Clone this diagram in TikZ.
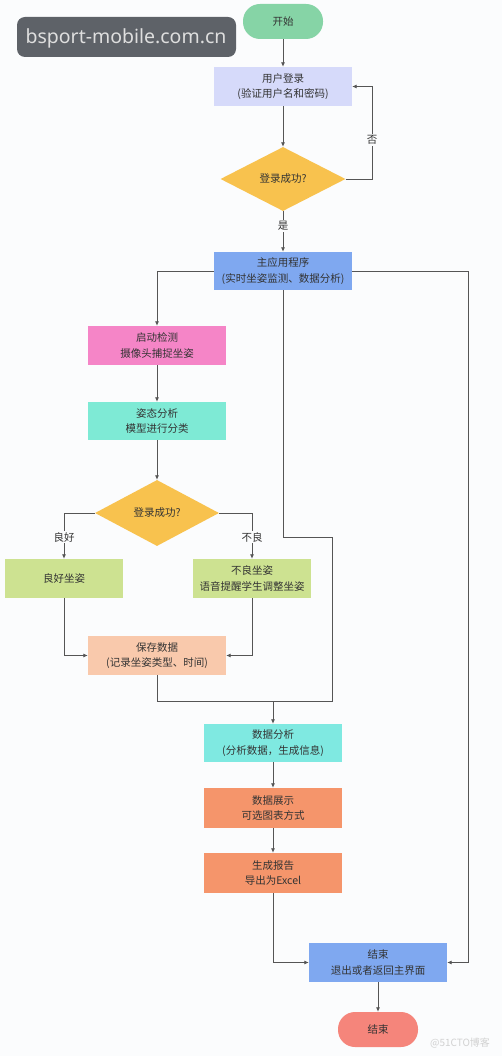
\documentclass[tikz,border=0pt]{standalone}
\usepackage{fontspec}
\setmainfont{Noto Sans CJK SC}
\newfontfamily\wmfont{Noto Sans}
\usetikzlibrary{shapes.geometric,arrows.meta,calc}
\definecolor{bgc}{HTML}{FBFCFD}
\definecolor{linec}{HTML}{555555}
\definecolor{txtc}{HTML}{333333}
\definecolor{cstart}{HTML}{86D4A6}
\definecolor{clogin}{HTML}{D6DAFA}
\definecolor{cdia}{HTML}{F8C24E}
\definecolor{cblue}{HTML}{7FA8F0}
\definecolor{cpink}{HTML}{F585C7}
\definecolor{caqua}{HTML}{7EEAD5}
\definecolor{cgreen}{HTML}{CDE291}
\definecolor{cpeach}{HTML}{F9C9AC}
\definecolor{ccyan}{HTML}{7FE9E1}
\definecolor{corange}{HTML}{F5956B}
\definecolor{cend}{HTML}{F5857B}
\definecolor{wmbox}{HTML}{5E6268}
\tikzset{
  every node/.style={font=\fontsize{10.5}{15.5}\selectfont, text=txtc, align=center},
  procbox/.style={rectangle, minimum width=138pt, minimum height=39pt, inner sep=1pt},
  termbox/.style={rectangle, rounded corners=17pt, minimum width=80pt, minimum height=35pt, inner sep=1pt},
  decbox/.style={diamond, inner sep=0pt},
  conn/.style={draw=linec, line width=0.8pt, -{Latex[length=4.5pt,width=4pt]}},
  plainconn/.style={draw=linec, line width=0.8pt},
  lbl/.style={fill=bgc, inner sep=1.5pt}
}
\begin{document}
\begin{tikzpicture}[x=1pt,y=-1pt]
\fill[bgc] (0,0) rectangle (502,1056);
\useasboundingbox (0,0) rectangle (502,1056);

% nodes
\node[termbox, fill=cstart] (start) at (283,21.5) {开始};
\node[procbox, fill=clogin] (login) at (283,86.5) {用户登录\\(验证用户名和密码)};
\node[decbox, fill=cdia, minimum width=125pt, minimum height=64pt] (d1) at (283,179) {登录成功?};
\node[procbox, fill=cblue, minimum height=38pt] (main) at (283,271) {主应用程序\\(实时坐姿监测、数据分析)};
\node[procbox, fill=cpink] (detect) at (157,345.5) {启动检测\\摄像头捕捉坐姿};
\node[procbox, fill=caqua, minimum height=38pt] (posture) at (157,421) {姿态分析\\模型进行分类};
\node[decbox, fill=cdia, minimum width=124pt, minimum height=66pt] (d2) at (157,513) {登录成功?};
\node[procbox, fill=cgreen, minimum width=118pt] (good) at (64,578.5) {良好坐姿};
\node[procbox, fill=cgreen, minimum width=118pt] (bad) at (252,578.5) {不良坐姿\\语音提醒学生调整坐姿};
\node[procbox, fill=cpeach] (save) at (157,655.5) {保存数据\\(记录坐姿类型、时间)};
\node[procbox, fill=ccyan, minimum height=38pt] (analysis) at (273,743) {数据分析\\(分析数据，生成信息)};
\node[procbox, fill=corange, minimum height=40pt] (show) at (273,808) {数据展示\\可选图表方式};
\node[procbox, fill=corange, minimum height=40pt] (report) at (273,873) {生成报告\\导出为Excel};
\node[procbox, fill=cblue] (endbox) at (378,962.5) {结束\\退出或者返回主界面};
\node[termbox, fill=cend] (endterm) at (378,1029.5) {结束};

\coordinate (loopc) at (372,179);
\coordinate (merge) at (273,701);
\coordinate (midA) at (283,537);
\coordinate (midB) at (332,537);
\coordinate (midC) at (332,701);
\coordinate (rr) at (468,962.5);

% connectors
\draw[conn] (start) -- (login);
\draw[conn] (login) -- (d1);
\draw[conn] (d1.east) -- (loopc) |- (login.east);
\node[lbl] (no) at (372,140) {否};
\draw[conn] (d1.south) -- (main.north);
\node[lbl] (yes) at (283,226) {是};
\draw[conn] (main.west) -| (detect.north);
\draw[conn] (detect) -- (posture);
\draw[conn] (posture) -- (d2.north);
\draw[conn] (d2.west) -| (good.north);
\node[lbl] (goodlbl) at (64,537) {良好};
\draw[conn] (d2.east) -| (bad.north);
\node[lbl] (badlbl) at (252,537) {不良};
\draw[conn] (good.south) |- (save.west);
\draw[conn] (bad.south) |- (save.east);
\draw[plainconn] (main.south) -- (midA) -- (midB) -- (midC) -- (merge);
\draw[plainconn] (save.south) |- (merge);
\draw[conn] (merge) -- (analysis.north);
\draw[conn] (analysis) -- (show);
\draw[conn] (show) -- (report);
\draw[conn] (report.south) |- (endbox.west);
\draw[conn] (main.east) -| (rr) -- (endbox.east);
\draw[conn] (endbox) -- (endterm);

% watermarks
\fill[wmbox, rounded corners=8pt] (17,17) rectangle (236,57);
\node[font=\wmfont\fontsize{19.5}{22}\selectfont, text=black!13] (wm) at (126,38) {bsport-mobile.com.cn};
\node[font=\fontsize{10}{11}\selectfont, text=black!18] (wm2) at (460,1043) {@51CTO博客};
\end{tikzpicture}
\end{document}
